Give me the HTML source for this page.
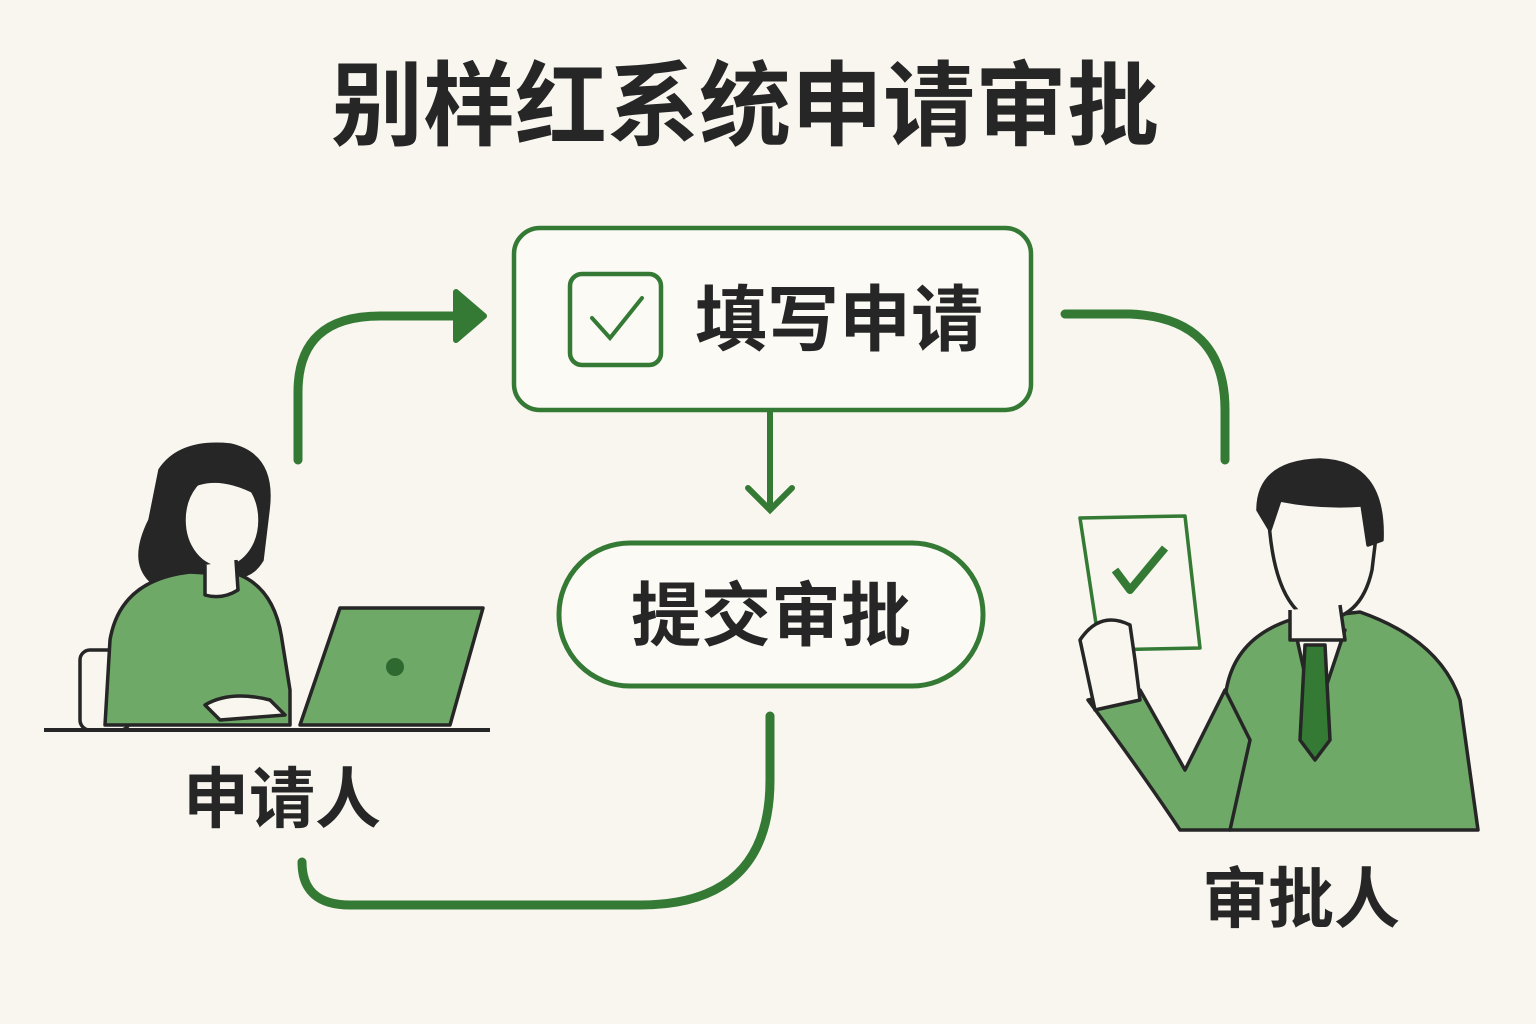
<!DOCTYPE html>
<html><head><meta charset="utf-8"><style>
html,body{margin:0;padding:0;background:#f8f6ef;}
svg{display:block}
text{font-family:"Liberation Sans","Noto Sans CJK SC",sans-serif;font-weight:bold;fill:#262626}
</style></head><body>
<svg width="1536" height="1024" viewBox="0 0 1536 1024" xmlns="http://www.w3.org/2000/svg">
<rect width="1536" height="1024" fill="#f8f6ef"/>
<text x="745" y="138" font-size="92" text-anchor="middle">别样红系统申请审批</text>

<g fill="none" stroke="#347a35" stroke-linecap="round">
<rect x="514" y="228" width="517" height="182" rx="26" fill="#fbfaf5" stroke-width="4.5"/>
<rect x="570" y="274" width="91" height="91" rx="12" stroke-width="4.5"/>
<path d="M592 318 L610 338 L642 298" stroke-width="4"/>
<rect x="559" y="543" width="424" height="143" rx="71" fill="#fbfaf5" stroke-width="5"/>
<path d="M770 412 V508 M748 488 L770 510 L792 488" stroke-width="6"/>
<path d="M298 460 V392 Q298 316 380 316 H458" stroke-width="9"/>
<path d="M1065 314 H1130 Q1225 318 1225 410 V460" stroke-width="9"/>
<path d="M770 716 V780 Q770 905 640 905 H350 Q302 905 302 862" stroke-width="9"/>
</g>
<path d="M456 292 L484 316 L456 340 Z" fill="#347a35" stroke="#347a35" stroke-width="6" stroke-linejoin="round"/>
<text x="839" y="345" font-size="72" text-anchor="middle">填写申请</text>
<text x="771" y="640" font-size="70" text-anchor="middle">提交审批</text>
<text x="282" y="822" font-size="66" text-anchor="middle">申请人</text>
<text x="1301" y="922" font-size="66" text-anchor="middle">审批人</text>

<!-- woman -->
<g stroke="#262626" stroke-width="3.5" stroke-linejoin="round">
<rect x="80" y="650" width="50" height="80" rx="10" fill="#f8f6ef"/>
<path d="M160 470 Q180 440 230 445 Q275 455 268 510 L262 560 Q250 580 230 575 L150 580 Q130 560 150 520 Z" fill="#262626"/>
<path d="M105 725 L110 640 Q120 580 190 572 L240 575 Q275 590 282 640 L290 690 L290 725 Z" fill="#6ea968"/>
<ellipse cx="222" cy="520" rx="38" ry="48" fill="#f8f6ef"/>
<path d="M185 490 Q215 470 260 495 Q250 470 222 468 Q190 470 185 490Z" fill="#262626"/>
<path d="M205 565 L205 595 Q222 600 238 590 L236 560" fill="#f8f6ef"/>
<path d="M340 608 L483 608 L450 725 L300 725 Z" fill="#6ea968"/>
<circle cx="395" cy="667" r="9" fill="#2e6a30" stroke="none"/>
<path d="M205 705 Q230 690 270 700 L285 715 L220 720 Z" fill="#f8f6ef"/>
</g>
<line x1="44" y1="730" x2="490" y2="730" stroke="#262626" stroke-width="4"/>

<!-- man -->
<g stroke="#262626" stroke-width="3.5" stroke-linejoin="round">
<path d="M1230 830 L1225 700 Q1230 640 1290 620 L1360 612 Q1440 640 1460 700 L1478 830 Z" fill="#6ea968"/>
<path d="M1295 630 L1315 720 L1345 630 Z" fill="#f8f6ef"/>
<path d="M1305 645 L1325 645 L1330 740 L1315 760 L1300 740 Z" fill="#347a35"/>
<path d="M1088 700 Q1140 770 1180 830 L1230 830 L1250 740 L1225 690 L1185 770 L1140 690 Z" fill="#6ea968"/>
<path d="M1080 518 L1185 516 L1200 648 L1100 650 Z" fill="#f8f6ef" stroke="#347a35"/>
<path d="M1115 570 L1130 590 L1165 548" fill="none" stroke="#347a35" stroke-width="8"/>
<path d="M1080 640 Q1100 610 1130 625 L1135 660 L1140 700 L1095 710 Z" fill="#f8f6ef"/>
<path d="M1268 500 Q1270 600 1310 620 Q1360 625 1372 570 L1378 520 Q1360 470 1310 470 Q1268 475 1268 500Z" fill="#f8f6ef"/>
<path d="M1258 510 Q1258 462 1320 460 Q1385 462 1382 540 L1368 545 L1362 505 Q1320 508 1280 500 L1270 530 Z" fill="#262626"/>
<path d="M1290 610 L1290 640 L1345 640 L1340 605" fill="#f8f6ef"/>
</g>
</svg>
</body></html>
